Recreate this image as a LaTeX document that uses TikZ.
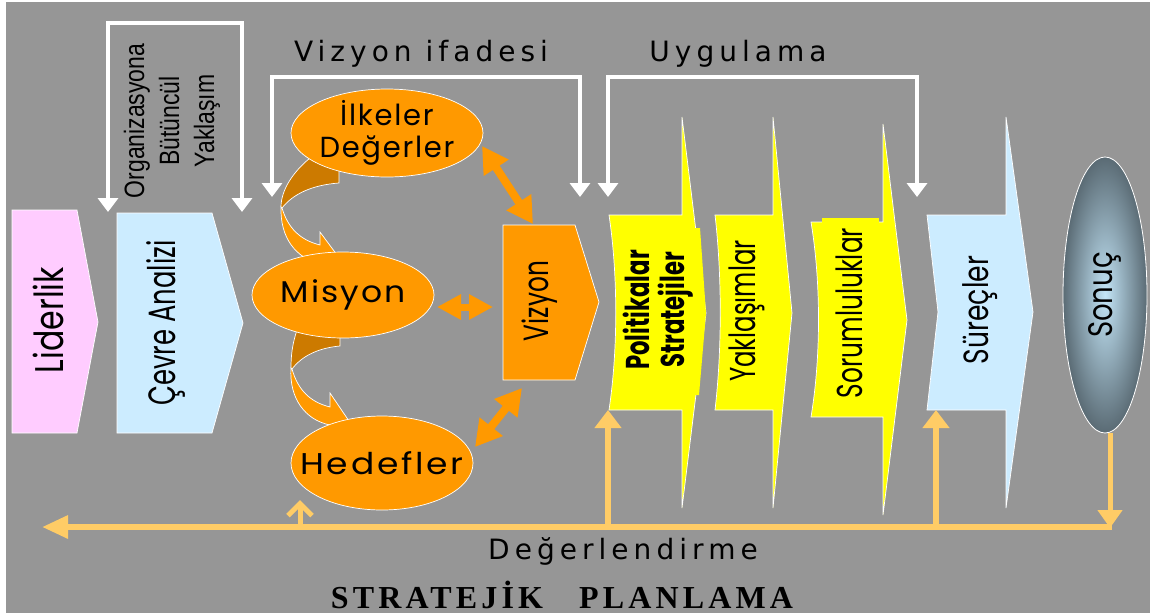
\documentclass[tikz,border=0pt]{standalone}
\usepackage{fontspec}
\setmainfont{Liberation Serif}
\newfontfamily\comicf{Poppins}
\newfontfamily\verdf{DejaVu Sans}
\newfontfamily\narrowf{Liberation Sans}
\usetikzlibrary{arrows.meta,shapes.geometric}

\definecolor{bggray}{HTML}{969696}
\definecolor{pinkbox}{HTML}{FFCCFF}
\definecolor{bluebox}{HTML}{CCECFF}
\definecolor{orangefill}{HTML}{FF9900}
\definecolor{orangedark}{HTML}{CC7A00}
\definecolor{yellowbox}{HTML}{FFFF00}
\definecolor{feedback}{HTML}{FFCC66}
\definecolor{slateout}{HTML}{56666F}
\definecolor{slatein}{HTML}{C4E6F8}
\colorlet{slatemid}{slatein!80!slateout}
\pgfdeclareradialshading{sonucshade}{\pgfpoint{0bp}{0bp}}{color(0bp)=(slatein); color(5bp)=(slatemid); color(26bp)=(slateout); color(50bp)=(slateout)}

\begin{document}
\begin{tikzpicture}[x=1pt,y=-1pt,
  every node/.style={inner sep=0pt,outer sep=0pt,text=black},
  boxedge/.style={draw=white,line width=0.7pt,line join=miter},
  bracket/.style={draw=white,line width=4pt,{Triangle[length=14pt,width=20pt]}-{Triangle[length=14pt,width=20pt]}},
  topic/.style={font=\verdf\fontsize{28}{30}\selectfont\addfontfeature{LetterSpace=18}},
  boxlabel/.style={rotate=90,align=center},
  oval/.style={ellipse,fill=orangefill,draw=white,line width=0.7pt},
  ovaltext/.style={font=\comicf\fontsize{30}{32}\selectfont\addfontfeature{LetterSpace=#1},align=center},
  dbl/.style={draw=orangefill,line width=8pt,{Triangle[length=26pt,width=28pt]}-{Triangle[length=26pt,width=28pt]}},
  fbline/.style={draw=feedback,line width=6pt},
  fbhead/.style={-{Triangle[length=18pt,width=26pt]}},
]
\useasboundingbox (0,0) rectangle (1156,614);
\fill[white] (0,0) rectangle (1156,614);
\fill[bggray] (6,2) rectangle (1150,613);

% --- white brackets with titles ---
\coordinate (b1a) at (108,212); \coordinate (b1b) at (242,212);
\coordinate (b2a) at (272,197); \coordinate (b2b) at (580,197);
\coordinate (b3a) at (608,197); \coordinate (b3b) at (917,197);
\draw[bracket] (b1a) -- ++(0,-189) -| (b1b);
\draw[bracket] (b2a) -- ++(0,-120) -| (b2b);
\draw[bracket] (b3a) -- ++(0,-120) -| (b3b);
\node (org) [rotate=90,xscale=0.82,align=center,font=\narrowf\fontsize{28}{35}\selectfont] at (172,121) {Organizasyona\\Bütüncül\\Yaklaşım};
\node (vizifade) [topic] at (421,54) {Vizyon ifadesi};
\node (uyg) [topic] at (738,54) {Uygulama};

% --- first two arrow boxes ---
\path[fill=pinkbox,boxedge] (12,210) -- (77,210) -- (98,322) -- (77,433) -- (12,433) -- cycle;
\node (lider) [boxlabel,xscale=0.79,font=\comicf\fontsize{40}{40}\selectfont] at (48,320) {Liderlik};
\path[fill=bluebox,boxedge] (117,213) -- (212,213) -- (243,323) -- (212,433) -- (117,433) -- cycle;
\node (cevre) [boxlabel,xscale=0.68,font=\comicf\fontsize{38}{40}\selectfont] at (166,323) {Çevre Analizi};

% --- curved ribbon arrows between the ovals ---
\path[fill=orangedark,boxedge] (310,158) .. controls (293,172) and (281,190) .. (281,207)
  -- (282,208) .. controls (293,194) and (312,185) .. (339,183) -- (339,160) -- cycle;
\path[fill=orangefill,boxedge] (282,208) .. controls (288,228) and (300,240) .. (320,245)
  -- (320,232) -- (340,259) -- (320,284) -- (320,264)
  .. controls (296,258) and (280,238) .. (281,207) -- cycle;
\path[fill=orangedark,boxedge] (297,330) .. controls (292,345) and (291,356) .. (291,368)
  -- (292,369) .. controls (302,356) and (318,348) .. (340,346) -- (340,330) -- cycle;
\path[fill=orangefill,boxedge] (292,369) .. controls (298,390) and (310,402) .. (330,407)
  -- (330,393) -- (349,421) -- (330,446) -- (330,425)
  .. controls (305,420) and (289,398) .. (291,368) -- cycle;

% --- ovals ---
\node (ilke) [oval,minimum width=192pt,minimum height=88pt] at (387,133) {};
\node [align=center,font=\comicf\fontsize{29}{32}\selectfont\addfontfeature{LetterSpace=6}] at (ilke) {İlkeler\\Değerler};
\node (mis) [oval,minimum width=182pt,minimum height=86pt] at (343,295) {};
\node [ovaltext=6,xscale=1.1] at (mis) {Misyon};
\node (hed) [oval,minimum width=182pt,minimum height=94pt] at (382,463) {};
\node [ovaltext=8,xscale=1.15] at (hed) {Hedefler};

% --- Vizyon box ---
\path[fill=orangefill,boxedge] (503,225) -- (575,225) -- (599,302) -- (575,380) -- (503,380) -- cycle;
\node (viz) [boxlabel,xscale=0.71,font=\comicf\fontsize{35}{36}\selectfont] at (540,301) {Vizyon};

% --- two-headed links to Vizyon ---
\coordinate (ilkeE) at (482,146); \coordinate (vizN) at (533,224);
\coordinate (misE) at (437,307); \coordinate (vizW) at (493,307);
\coordinate (hedE) at (475,447); \coordinate (vizS) at (522,388);
\draw[dbl] (ilkeE) -- (vizN);
\draw[dbl] (hedE) -- (vizS);
\draw[draw=orangefill,line width=7pt,{Triangle[length=24pt,width=24pt]}-{Triangle[length=24pt,width=24pt]}] (misE) -- (vizW);

% --- implementation arrows ---
\path[fill=yellowbox,boxedge] (609,215) -- (682,215) -- (682,117) -- (706,313) -- (682,508) -- (682,410) -- (609,410)
  .. controls (618,350) and (618,275) .. (609,215) -- cycle;
\fill[yellowbox] (617,228) -- (700,228) -- (706,313) -- (699,395) -- (617,395) -- cycle;
\node (pol) [boxlabel,xscale=0.69,font=\comicf\bfseries\fontsize{33}{35}\selectfont] at (658,310) {Politikalar\\Stratejiler};

\path[fill=yellowbox,boxedge] (715,215) -- (773,215) -- (773,117) -- (792,313) -- (773,508) -- (773,410) -- (715,410)
  .. controls (722,350) and (722,275) .. (715,215) -- cycle;
\node (yak) [boxlabel,xscale=0.68,font=\comicf\fontsize{36}{38}\selectfont] at (747,311) {Yaklaşımlar};

\path[fill=yellowbox,boxedge] (811,222) -- (883,222) -- (883,124) -- (907,320) -- (883,515) -- (883,417) -- (811,417)
  .. controls (821,357) and (821,282) .. (811,222) -- cycle;
\fill[yellowbox] (822,218) rectangle (879,223);
\node (sor) [boxlabel,xscale=0.69,font=\comicf\fontsize{36}{38}\selectfont] at (849,313) {Sorumluluklar};

\path[fill=bluebox,boxedge] (927,215) -- (1006,215) -- (1006,117) -- (1033,312) -- (1006,508) -- (1006,410) -- (927,410) -- (938,312) -- cycle;
\node (sur) [boxlabel,xscale=0.76,font=\comicf\fontsize{35}{36}\selectfont] at (980,310) {Süreçler};

% --- result ---
\node (son) [ellipse,minimum width=84pt,minimum height=276pt,draw=white,line width=0.8pt,shading=sonucshade] at (1105,295) {};
\node [boxlabel,xscale=0.81,font=\comicf\fontsize{34}{34}\selectfont] at (son) {Sonuç};

% --- evaluation feedback ---
\coordinate (fbL) at (42,527);
\coordinate (fbR) at (1112,527);
\coordinate (sonB) at (1110,433);
\coordinate (fbHed) at (300,527); \coordinate (hedB) at (300,500);
\coordinate (fbPol) at (608,527); \coordinate (polB) at (608,410);
\coordinate (fbSur) at (936,527); \coordinate (surB) at (936,410);
\draw[fbline,-{Triangle[length=26pt,width=22pt]}] (fbR) -- (fbL);
\draw[fbline,-{Straight Barb[length=12pt,width=24pt]},line width=5pt] (fbHed) -- (hedB);
\draw[fbline,fbhead] (fbPol) -- (polB);
\draw[fbline,fbhead] (fbSur) -- (surB);
\draw[fbline,line width=5pt,-{Triangle[length=18pt,width=24pt]}] (sonB) -- (1110,528);
\node (deg) [topic] at (623,551) {Değerlendirme};

% --- title ---
\node (title) [font=\bfseries\fontsize{32}{34}\selectfont\addfontfeature{LetterSpace=13}] at (562,595) {STRATEJİK\hspace{36pt}PLANLAMA};
\end{tikzpicture}
\end{document}
